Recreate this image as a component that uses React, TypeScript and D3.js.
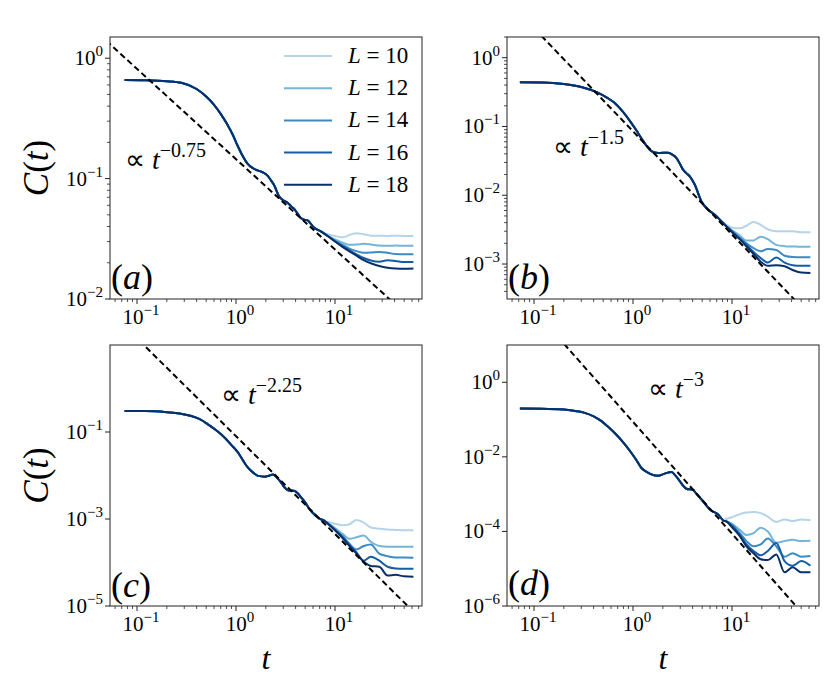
import React from 'react';
import * as d3 from 'd3';

// system sizes shown in every panel
const sizes = [10, 12, 14, 16, 18];

// late-time grid where the curves for different L split apart
const tailTimes = [8.5, 10, 12, 14, 16.5, 19.5, 23, 28, 34, 41, 50, 62];

// (a) exponent 0.75
const aTimes = [0.075, 0.12, 0.2, 0.28, 0.4, 0.5, 0.6, 0.7, 0.82, 0.93, 1.03, 1.15, 1.3, 1.48, 1.65, 1.85, 2.08, 2.25, 2.43, 2.73, 3.0, 3.31, 3.6, 3.87, 4.2, 4.52, 4.9, 5.29, 5.7, 6.17, 7.2];
const aValues = [0.66, 0.657, 0.645, 0.625, 0.555, 0.48, 0.41, 0.345, 0.28, 0.23, 0.19, 0.158, 0.134, 0.122, 0.117, 0.113, 0.106, 0.097, 0.088, 0.071, 0.066, 0.063, 0.059, 0.056, 0.051, 0.047, 0.0455, 0.045, 0.042, 0.039, 0.0365];
const aTails = [
  [0.0345, 0.0333, 0.0325, 0.034, 0.0352, 0.0345, 0.0336, 0.0335, 0.0334, 0.0335, 0.0334, 0.0334],
  [0.0335, 0.0312, 0.0293, 0.0282, 0.0283, 0.0287, 0.0284, 0.0278, 0.0277, 0.0278, 0.0277, 0.0277],
  [0.0333, 0.0305, 0.028, 0.0262, 0.025, 0.0242, 0.0243, 0.0246, 0.0242, 0.0236, 0.0235, 0.0235],
  [0.0332, 0.0302, 0.0274, 0.0254, 0.0235, 0.0219, 0.0209, 0.0204, 0.021, 0.0207, 0.0203, 0.0203],
  [0.0332, 0.03, 0.027, 0.0249, 0.0229, 0.021, 0.0198, 0.0188, 0.0182, 0.0179, 0.0178, 0.0179],
];

// (b) exponent 1.5
const bTimes = [0.072, 0.12, 0.2, 0.3, 0.44, 0.55, 0.65, 0.8, 0.96, 1.08, 1.21, 1.36, 1.53, 1.79, 2.0, 2.26, 2.5, 2.74, 3.0, 3.2, 3.45, 3.73, 4.2, 4.9, 5.7, 6.7, 7.8];
const bValues = [0.44, 0.437, 0.415, 0.375, 0.31, 0.26, 0.221, 0.16, 0.113, 0.088, 0.068, 0.053, 0.0437, 0.041, 0.0415, 0.0414, 0.039, 0.035, 0.028, 0.0236, 0.021, 0.0189, 0.0143, 0.0082, 0.0062, 0.0052, 0.0042];
const bTails = [
  [0.0038, 0.0034, 0.0033, 0.0036, 0.0041, 0.0037, 0.0032, 0.003, 0.003, 0.003, 0.0029, 0.0029],
  [0.0037, 0.0031, 0.0026, 0.0022, 0.0022, 0.0025, 0.0023, 0.0019, 0.00182, 0.0018, 0.00178, 0.00178],
  [0.0037, 0.003, 0.0024, 0.002, 0.0017, 0.00153, 0.00165, 0.0016, 0.00132, 0.00126, 0.00125, 0.00125],
  [0.0037, 0.003, 0.0023, 0.0019, 0.0015, 0.00122, 0.00105, 0.00124, 0.00105, 0.00096, 0.00094, 0.00094],
  [0.0037, 0.0029, 0.0023, 0.0018, 0.0014, 0.00108, 0.00094, 0.00096, 0.00093, 0.00082, 0.00075, 0.00074],
];

// (c) exponent 2.25
const cTimes = [0.075, 0.12, 0.19, 0.27, 0.354, 0.43, 0.52, 0.64, 0.77, 0.9, 1.05, 1.18, 1.32, 1.5, 1.67, 1.95, 2.15, 2.37, 2.6, 2.87, 3.1, 3.35, 3.92, 4.2, 4.57, 5.0, 5.55, 6.1, 6.73, 7.87];
const cValues = [0.304, 0.302, 0.29, 0.265, 0.233, 0.197, 0.15, 0.107, 0.074, 0.05, 0.0335, 0.022, 0.0151, 0.0115, 0.0098, 0.0094, 0.0099, 0.0106, 0.0088, 0.0068, 0.0053, 0.0046, 0.0044, 0.0039, 0.0031, 0.0024, 0.00167, 0.00132, 0.00107, 0.0009];
const cTails = [
  [0.00085, 0.00078, 0.00072, 0.00076, 0.00095, 0.00083, 0.00064, 0.0006, 0.00057, 0.00056, 0.00055, 0.00055],
  [0.0008, 0.00062, 0.00045, 0.00035, 0.00038, 0.00042, 0.0003, 0.00024, 0.00023, 0.00023, 0.00023, 0.00023],
  [0.00078, 0.00058, 0.0004, 0.00027, 0.0002, 0.00024, 0.00026, 0.00016, 0.00014, 0.00013, 0.00013, 0.000128],
  [0.00078, 0.00056, 0.00037, 0.00025, 0.00017, 0.00011, 0.000135, 0.00011, 0.00008, 0.000073, 0.000072, 0.000072],
  [0.00078, 0.00055, 0.00036, 0.00024, 0.00016, 0.000105, 0.000083, 0.00008, 0.00005, 0.000052, 0.000048, 0.000047],
];

// (d) exponent 3
const dTimes = [0.072, 0.12, 0.2, 0.27, 0.325, 0.4, 0.48, 0.56, 0.65, 0.8, 0.96, 1.08, 1.21, 1.36, 1.53, 1.79, 2.09, 2.44, 2.7, 2.96, 3.2, 3.46, 4.04, 4.4, 4.9, 5.4, 5.95, 7.2, 8.4];
const dValues = [0.198, 0.196, 0.186, 0.168, 0.151, 0.122, 0.0906, 0.064, 0.0442, 0.024, 0.0129, 0.0082, 0.0051, 0.004, 0.0034, 0.0031, 0.00355, 0.0039, 0.0031, 0.00225, 0.0017, 0.0014, 0.0013, 0.001, 0.00073, 0.00053, 0.00039, 0.00029, 0.00019];
const dTails = [
  [0.00021, 0.00024, 0.00029, 0.00032, 0.00033, 0.00031, 0.00025, 0.00018, 0.00021, 0.00019, 0.00021, 0.0002],
  [0.00019, 0.00016, 0.00011, 0.00008, 0.00009, 0.000125, 0.0001, 0.00005, 0.000055, 0.00006, 0.000055, 0.000056],
  [0.00019, 0.00015, 0.00009, 0.000055, 0.00004, 0.000045, 0.000065, 0.00004, 0.000021, 0.000026, 0.000021, 0.000022],
  [0.00019, 0.00014, 0.00008, 0.000045, 0.00003, 0.000023, 0.00003, 0.000049, 0.000016, 0.000012, 0.000016, 0.000012],
  [0.00019, 0.00013, 0.000075, 0.00004, 0.000026, 0.000018, 0.000017, 0.000024, 0.000008, 0.000011, 0.000008, 0.000008],
];

// power-law guides: prefactor and exponent label
const guidePrefactors = [0.145, 0.085, 0.08, 0.087];
const guideExponents = [0.75, 1.5, 2.25, 3];
const guideLabels = ['−0.75', '−1.5', '−2.25', '−3'];
const panelLabels = ['a', 'b', 'c', 'd'];

const xTicks = [0.1, 1, 10];
const yTicksList = [
  [1, 0.1, 0.01],
  [1, 0.1, 0.01, 0.001],
  [0.1, 0.001, 0.00001],
  [1, 0.01, 0.0001, 0.000001],
];
const yDomains = [
  [0.01, 1.5],
  [3.1e-4, 2.0],
  [1e-5, 10],
  [1e-6, 10],
];

const FONT = 'Liberation Serif';
const colors = [0.3, 0.475, 0.65, 0.825, 1.0].map((v) => d3.interpolateBlues(v));

const layout = [
  { x0: 102, x1: 414, y0: 29, y1: 291, ann: [117, 161], lab: [103, 281], yLabel: true, xLabel: false },
  { x0: 499, x1: 811, y0: 29, y1: 291, ann: [545, 148], lab: [500, 281], yLabel: false, xLabel: false },
  { x0: 102, x1: 414, y0: 337, y1: 598, ann: [213, 396], lab: [103, 589], yLabel: true, xLabel: true },
  { x0: 499, x1: 811, y0: 337, y1: 598, ann: [640, 390], lab: [500, 587], yLabel: false, xLabel: true },
];

const allTimes = [aTimes, bTimes, cTimes, dTimes];
const allValues = [aValues, bValues, cValues, dValues];
const allTails = [aTails, bTails, cTails, dTails];

const expOf = (v: number) => {
  const e = Math.round(Math.log10(v));
  return e < 0 ? '−' + Math.abs(e) : String(e);
};

function minorTicks(lo: number, hi: number) {
  const out: number[] = [];
  for (let d = Math.floor(Math.log10(lo)); d <= Math.ceil(Math.log10(hi)); d++) {
    for (let k = 2; k <= 9; k++) {
      const v = k * Math.pow(10, d);
      if (v >= lo && v <= hi) out.push(v);
    }
  }
  return out;
}

function Panel({ idx }: { idx: number }) {
  const g = layout[idx];
  const x = d3.scaleLog().domain([Math.pow(10, -1.273), Math.pow(10, 1.879)]).range([g.x0, g.x1]);
  const y = d3.scaleLog().domain(yDomains[idx]).range([g.y1, g.y0]);
  const line = d3
    .line<[number, number]>()
    .x((d) => x(d[0]))
    .y((d) => y(d[1]))
    .curve(d3.curveMonotoneX);

  const times = [...allTimes[idx], ...tailTimes];
  const series = allTails[idx].map((tail) => {
    const vals = [...allValues[idx], ...tail];
    return times.map((t, i) => [t, vals[i]] as [number, number]);
  });

  const A = guidePrefactors[idx];
  const p = guideExponents[idx];
  const guideT = [0.03, 100];
  const guide = guideT.map((t) => [t, A * Math.pow(t, -p)] as [number, number]);

  const xd = x.domain();
  const yd = y.domain();
  const xMinor = minorTicks(xd[0], xd[1]);
  const yMinor = idx < 2 ? minorTicks(yd[0], yd[1]) : [];
  const clipId = `clip-${idx}`;

  return (
    <g>
      <defs>
        <clipPath id={clipId}>
          <rect x={g.x0} y={g.y0} width={g.x1 - g.x0} height={g.y1 - g.y0} />
        </clipPath>
      </defs>
      <g clipPath={`url(#${clipId})`}>
        {series.map((s, i) => (
          <path key={i} d={line(s) || ''} fill="none" stroke={colors[i]} strokeWidth={2} strokeLinejoin="round" />
        ))}
        <path
          d={d3.line<[number, number]>().x((d) => x(d[0])).y((d) => y(d[1]))(guide) || ''}
          fill="none"
          stroke="#000"
          strokeWidth={2}
          strokeDasharray="6,3.5"
        />
      </g>
      <rect x={g.x0} y={g.y0} width={g.x1 - g.x0} height={g.y1 - g.y0} fill="none" stroke="#222" strokeWidth={1} />

      {/* x ticks */}
      {xTicks.map((t) => (
        <g key={`xt${t}`}>
          <line x1={x(t)} x2={x(t)} y1={g.y1} y2={g.y1 + 5} stroke="#222" strokeWidth={1} />
          <text x={x(t) + 4} y={g.y1 + 25} textAnchor="middle" fontFamily={FONT} fontSize={21}>
            10<tspan dy={-9} fontSize={15}>{expOf(t)}</tspan>
          </text>
        </g>
      ))}
      {xMinor.map((t) => (
        <line key={`xm${t}`} x1={x(t)} x2={x(t)} y1={g.y1} y2={g.y1 + 3} stroke="#222" strokeWidth={0.8} />
      ))}

      {/* y ticks */}
      {yTicksList[idx].map((v) => (
        <g key={`yt${v}`}>
          <line x1={g.x0 - 5} x2={g.x0} y1={y(v)} y2={y(v)} stroke="#222" strokeWidth={1} />
          <text x={g.x0 - 7} y={y(v) + 7} textAnchor="end" fontFamily={FONT} fontSize={21}>
            10<tspan dy={-9} fontSize={15}>{expOf(v)}</tspan>
          </text>
        </g>
      ))}
      {yMinor.map((v) => (
        <line key={`ym${v}`} x1={g.x0 - 3} x2={g.x0} y1={y(v)} y2={y(v)} stroke="#222" strokeWidth={0.8} />
      ))}

      {/* power-law annotation */}
      <text x={g.ann[0]} y={g.ann[1]} fontFamily={FONT} fontSize={28}>
        ∝ <tspan fontStyle="italic">t</tspan>
        <tspan dy={-12} fontSize={20}>{guideLabels[idx]}</tspan>
      </text>

      {/* panel label */}
      <text x={g.lab[0]} y={g.lab[1]} fontFamily={FONT} fontSize={36}>
        (<tspan fontStyle="italic">{panelLabels[idx]}</tspan>)
      </text>

      {g.yLabel && (
        <text
          transform={`translate(40,${(g.y0 + g.y1) / 2}) rotate(-90)`}
          textAnchor="middle"
          fontFamily={FONT}
          fontSize={35}
        >
          <tspan fontStyle="italic">C</tspan>(<tspan fontStyle="italic">t</tspan>)
        </text>
      )}
      {g.xLabel && (
        <text x={(g.x0 + g.x1) / 2} y={g.y1 + 63} textAnchor="middle" fontFamily={FONT} fontSize={32} fontStyle="italic">
          t
        </text>
      )}

      {idx === 0 && (
        <g>
          {sizes.map((L, i) => {
            const ly = 48 + i * 32.2;
            return (
              <g key={L}>
                <line x1={276} x2={324} y1={ly} y2={ly} stroke={colors[i]} strokeWidth={2} />
                <text x={340} y={ly + 7} fontFamily={FONT} fontSize={23}>
                  <tspan fontStyle="italic">L</tspan> = {L}
                </text>
              </g>
            );
          })}
        </g>
      )}
    </g>
  );
}

export default function App() {
  return (
    <svg width={830} height={675} style={{ display: 'block', background: '#fff' }}>
      {[0, 1, 2, 3].map((i) => (
        <Panel key={i} idx={i} />
      ))}
    </svg>
  );
}
